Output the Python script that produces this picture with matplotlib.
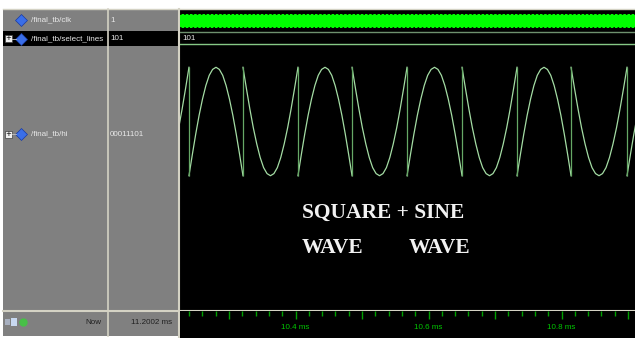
import numpy as np
import matplotlib.pyplot as plt
from matplotlib.patches import Rectangle

W, H = 635, 338

# signal names / values in the left panel
signal_names = ['/final_tb/clk', '/final_tb/select_lines', '/final_tb/hi']
signal_values = ['1', '101', '00011101']
now_label = 'Now'
now_value = '11.2002 ms'
bus_value = '101'

# time window of the wave view (ms)
t_view = [10.2263, 10.9105]

# times (ms) where the /hi signal jumps between top and bottom
jump_times = [10.1575, 10.2398, 10.3210, 10.4037, 10.4850, 10.5677,
              10.6504, 10.7331, 10.8143, 10.8985, 10.9808]
# shape of one "hump" segment (0..255)
hump = [0, 50, 98, 142, 180, 212, 236, 250, 255, 250, 236, 212, 180, 142, 98, 50, 0]
# first segment in the list is a trough, then they alternate
first_is_hump = False

# time ruler
major_ticks = [10.3, 10.4, 10.5, 10.6, 10.7, 10.8, 10.9]
major_labels = ['', '10.4 ms', '', '10.6 ms', '', '10.8 ms', '']
minor_ticks = [10.24, 10.26, 10.28, 10.32, 10.34, 10.36, 10.38, 10.42, 10.44, 10.46,
               10.48, 10.52, 10.54, 10.56, 10.58, 10.62, 10.64, 10.66, 10.68, 10.72,
               10.74, 10.76, 10.78, 10.82, 10.84, 10.86, 10.88, 10.9]


def box(x0, y0, x1, y1):
    return [x0 / W, 1 - y1 / H, (x1 - x0) / W, (y1 - y0) / H]


fig = plt.figure(figsize=(6.35, 3.38), dpi=100)
fig.patch.set_facecolor('white')

# background / panels in pixel coordinates
bg = fig.add_axes([0, 0, 1, 1])
bg.set_xlim(0, W)
bg.set_ylim(H, 0)
bg.axis('off')

gray = '#808080'
line_c = '#d4d2c4'
bg.add_patch(Rectangle((3, 9), 175, 327, color=gray, lw=0))
bg.add_patch(Rectangle((180, 9), 455, 329, color='black', lw=0))
bg.add_patch(Rectangle((3, 31), 175, 15, color='black', lw=0))
bg.plot([3, 635], [9, 9], color=line_c, lw=1)
bg.plot([108, 108], [9, 336], color=line_c, lw=1.2)
bg.plot([179, 179], [9, 338], color=line_c, lw=1.5)
bg.plot([3, 635], [310.5, 310.5], color=line_c, lw=1.5)

txt_c = '#e8e8e8'
fs = 5.8
rows_y = [20, 38.5, 134]
for name, val, y in zip(signal_names, signal_values, rows_y):
    bg.text(31, y, name, color=txt_c, fontsize=fs, va='center', ha='left',
            family='Liberation Sans')
    bg.text(110, y, val, color=txt_c, fontsize=fs, va='center', ha='left',
            family='Liberation Sans')

# diamonds and expand boxes
for y, plus in zip(rows_y, [False, True, True]):
    bg.plot(21, y, marker='D', ms=6, color='#3a6ee8', mec='#1a3aa0', mew=0.5)
    if plus:
        bg.add_patch(Rectangle((5, y - 3.5), 7, 7, facecolor='#f0f0f0',
                               edgecolor='#404040', lw=0.5))
        bg.text(8.5, y, '+', fontsize=5, ha='center', va='center', color='black')
        bg.plot([12, 16], [y, y], color='#c0c0c0', lw=0.6)

# bottom row
bg.text(101, 323, now_label, color='#202020', fontsize=fs, ha='right', va='center',
        family='Liberation Sans')
bg.text(172, 323, now_value, color='#202020', fontsize=fs, ha='right', va='center',
        family='Liberation Sans')
bg.add_patch(Rectangle((5, 319), 5, 6, color='#a8b0c0', lw=0))
bg.add_patch(Rectangle((11, 318), 6, 8, color='#c8d8f0', lw=0))
bg.plot(23, 322, marker='o', ms=5, color='#48c048')

# clock
ax_clk = fig.add_axes(box(180, 13.5, 635, 27.5))
ax_clk.set_xlim(t_view)
ax_clk.set_ylim(0, 1)
ax_clk.axis('off')
ax_clk.fill_between(t_view, 0, 1, color='#00ff00', lw=0)
ax_clk.plot(t_view, [1, 1], color='black', lw=1.2, ls=(0, (1, 1.5)))
ax_clk.plot(t_view, [0, 0], color='black', lw=1.2, ls=(0, (1, 1.5)))

# select_lines bus
ax_sel = fig.add_axes(box(180, 31, 635, 46))
ax_sel.set_xlim(t_view)
ax_sel.set_ylim(0, 1)
ax_sel.axis('off')
ax_sel.plot(t_view, [0.92, 0.92], color='#6e906e', lw=1)
ax_sel.plot(t_view, [0.12, 0.12], color='#86c886', lw=1)
ax_sel.text(t_view[0] + 0.003, 0.5, bus_value, color=txt_c, fontsize=fs,
            va='center', ha='left', family='Liberation Sans')

# /hi analog trace
ax = fig.add_axes(box(180, 66, 635, 177))
ax.set_xlim(t_view)
ax.set_ylim(-3, 258)
ax.axis('off')
hump_arr = np.array(hump, dtype=float)
is_hump = first_is_hump
for t0, t1 in zip(jump_times[:-1], jump_times[1:]):
    tt = np.linspace(t0, t1, len(hump_arr))
    vals = hump_arr if is_hump else 255 - hump_arr
    ax.plot(tt, vals, color='#a4dca4', lw=0.9)
    is_hump = not is_hump
ax.vlines(jump_times, 0, 255, color='#66a866', lw=0.9)

# ruler
ax_t = fig.add_axes(box(180, 311, 635, 338))
ax_t.set_facecolor('black')
ax_t.set_xlim(t_view)
ax_t.set_ylim(0, 1)
for s in ax_t.spines.values():
    s.set_visible(False)
ax_t.set_yticks([])
ax_t.set_xticks(major_ticks)
ax_t.set_xticklabels(major_labels)
ax_t.set_xticks(minor_ticks, minor=True)
ax_t.tick_params(axis='x', which='both', top=True, bottom=False, direction='in',
                 color='#00a000', labelcolor='#00c800', labelsize=5.8, pad=-10)
ax_t.tick_params(axis='x', which='major', length=6, width=1)
ax_t.tick_params(axis='x', which='minor', length=3.5, width=1)
for lab in ax_t.get_xticklabels():
    lab.set_family('Liberation Sans')

# annotation
big = dict(color='#f2f2f2', fontsize=15.5, fontweight='bold', family='Liberation Serif',
           va='center', ha='left')
bg.text(302, 213, 'SQUARE + SINE', **big)
bg.text(302, 248, 'WAVE', **big)
bg.text(409, 248, 'WAVE', **big)

fig.savefig('out.png', dpi=100)
